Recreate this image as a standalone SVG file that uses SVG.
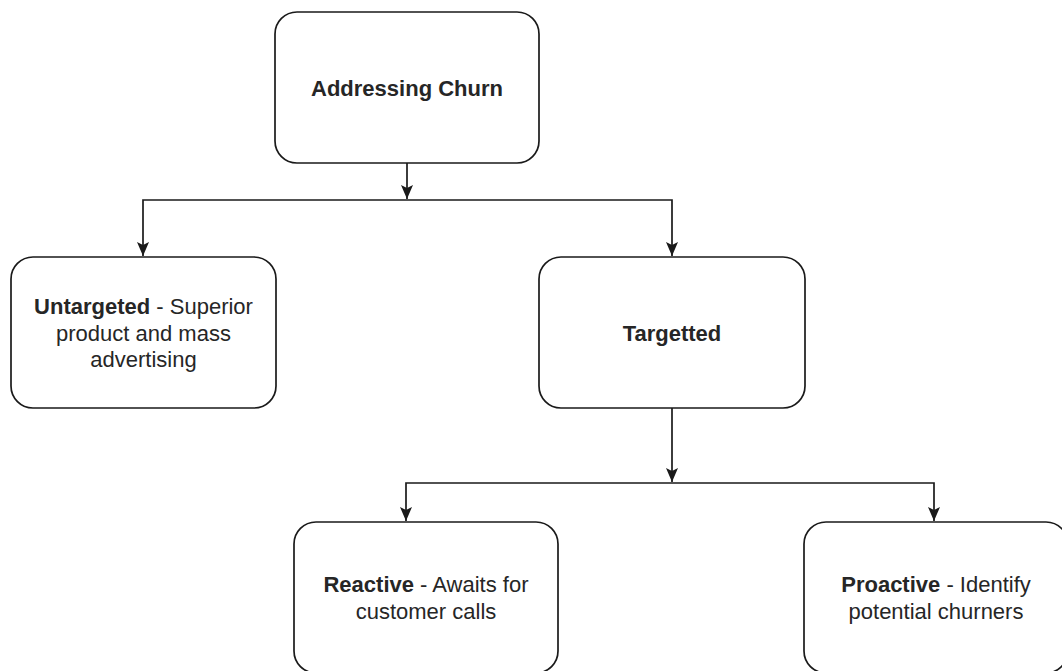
<svg xmlns="http://www.w3.org/2000/svg" width="1062" height="671" viewBox="0 0 1062 671">
  <style>
    .box { fill: #ffffff; stroke: #1a1a1a; stroke-width: 1.7; }
    .edge { fill: none; stroke: #1a1a1a; stroke-width: 1.7; }
    text { font-family: "Liberation Sans", Arial, sans-serif; font-size: 22px; fill: #262626; text-anchor: middle; }
    .b { font-weight: bold; }
  </style>
  <defs>
    <marker id="arrow" viewBox="0 0 14 12" refX="14" refY="6" markerWidth="14" markerHeight="12" markerUnits="userSpaceOnUse" orient="auto">
      <path d="M0,0 L14,6 L0,12 L3,6 Z" fill="#1a1a1a"/>
    </marker>
  </defs>
  <rect width="1062" height="671" fill="#ffffff"/>

  <g id="connectors">
    <path class="edge" d="M407,163 V199" marker-end="url(#arrow)"/>
    <path class="edge" d="M407,200 H143 V256" marker-end="url(#arrow)"/>
    <path class="edge" d="M407,200 H672 V256" marker-end="url(#arrow)"/>
    <path class="edge" d="M672,408 V482" marker-end="url(#arrow)"/>
    <path class="edge" d="M672,483 H406 V521" marker-end="url(#arrow)"/>
    <path class="edge" d="M672,483 H934 V521" marker-end="url(#arrow)"/>
  </g>

  <g id="node-addressing-churn">
    <rect class="box" x="275" y="12" width="264" height="151" rx="22" ry="22"/>
    <text x="407" y="96" class="b">Addressing Churn</text>
  </g>

  <g id="node-untargeted">
    <rect class="box" x="11" y="257" width="265" height="151" rx="22" ry="22"/>
    <text x="143.5" y="314"><tspan class="b">Untargeted</tspan> - Superior</text>
    <text x="143.5" y="341">product and mass</text>
    <text x="143.5" y="367">advertising</text>
  </g>

  <g id="node-targetted">
    <rect class="box" x="539" y="257" width="266" height="151" rx="22" ry="22"/>
    <text x="672" y="341" class="b">Targetted</text>
  </g>

  <g id="node-reactive">
    <rect class="box" x="294" y="522" width="264" height="151" rx="22" ry="22"/>
    <text x="426" y="592"><tspan class="b">Reactive</tspan> - Awaits for</text>
    <text x="426" y="619">customer calls</text>
  </g>

  <g id="node-proactive">
    <rect class="box" x="804" y="522" width="264" height="151" rx="22" ry="22"/>
    <text x="936" y="592"><tspan class="b">Proactive</tspan> - Identify</text>
    <text x="936" y="619">potential churners</text>
  </g>
</svg>
